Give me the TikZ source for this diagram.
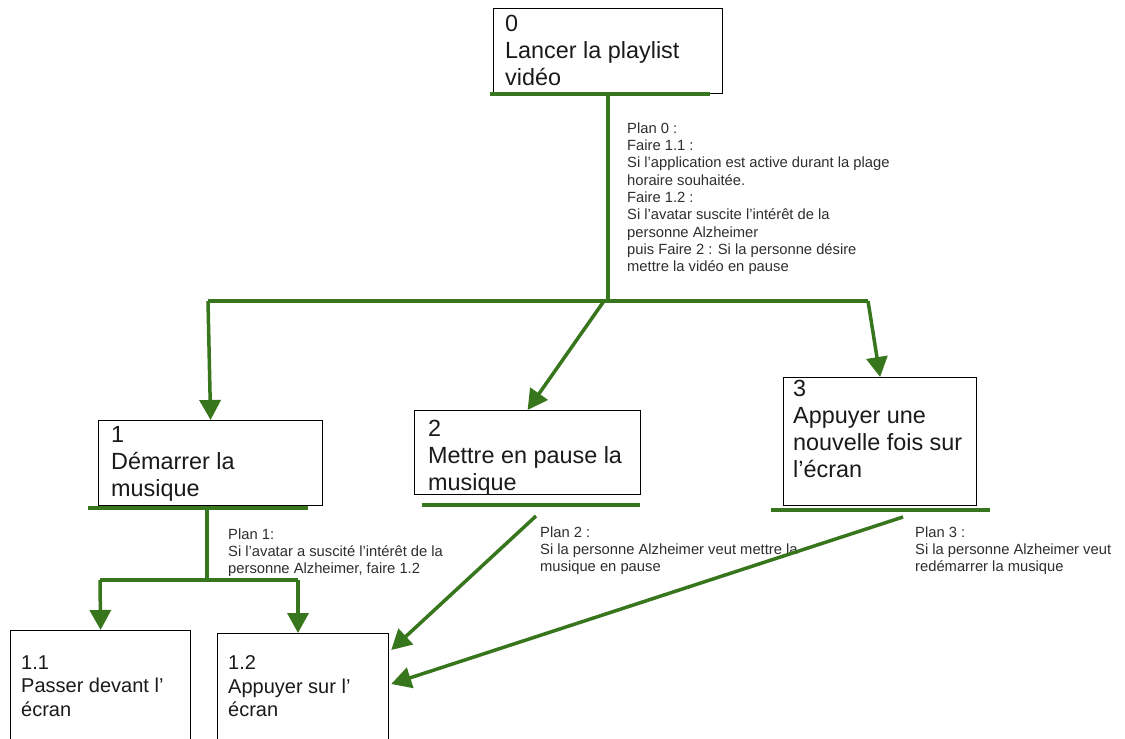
\documentclass[tikz,border=0pt]{standalone}
\usepackage{fontspec}
\setmainfont{Liberation Sans}
\usepackage{xcolor}
\usepackage{tikz}
\usetikzlibrary{calc,arrows.meta}
\definecolor{ink}{HTML}{1A1A1A}
\definecolor{note}{HTML}{2E2E2E}
\definecolor{leaf}{HTML}{38761D}
\tikzset{
  taskBox/.style={draw=black, line width=1.2pt, anchor=north west, inner sep=0pt},
  taskText/.style={text=ink, align=left, anchor=north west, inner sep=0pt,
    font=\fontsize{23.4}{27}\selectfont},
  leafText/.style={text=ink, align=left, anchor=north west, inner sep=0pt,
    font=\fontsize{20}{23.5}\selectfont},
  planText/.style={text=note, align=left, anchor=north west, inner sep=0pt,
    font=\fontsize{14.75}{17.3}\selectfont},
  underBar/.style={draw=leaf, line width=3.5pt},
  link/.style={draw=leaf, line width=3.5pt},
  flow/.style={draw=leaf, fill=leaf, line width=3.5pt,
    -{Triangle[width=21pt,length=20pt]}}
}
\begin{document}
\begin{tikzpicture}[x=1pt,y=-1pt]
  \fill[white] (0,0) rectangle (1125,739);
  \useasboundingbox (0,0) rectangle (1125,739);

  % task boxes
  \node[taskBox, minimum width=229pt, minimum height=85pt] (t0) at (493,8) {};
  \node[taskBox, minimum width=224pt, minimum height=85pt] (t1) at (98,420) {};
  \node[taskBox, minimum width=226pt, minimum height=84pt] (t2) at (414,410) {};
  \node[taskBox, minimum width=193pt, minimum height=128pt] (t3) at (783,377) {};
  \node[taskBox, minimum width=180pt, minimum height=140pt] (t11) at (10,630) {};
  \node[taskBox, minimum width=171pt, minimum height=140pt] (t12) at (217,633) {};

  \node[taskText] (l0) at (505,15) {0\\Lancer la playlist\\vidéo};
  \node[taskText] (l1) at (111,426) {1\\Démarrer la\\musique};
  \node[taskText] (l2) at (428,420) {2\\Mettre en pause la\\musique};
  \node[taskText] (l3) at (793,380) {3\\Appuyer une\\nouvelle fois sur\\l’écran};
  \node[leafText] (l11) at (21,655.5) {1.1\\Passer devant l’\\écran};
  \node[leafText] (l12) at (228,655.5) {1.2\\Appuyer sur l’\\écran};

  % plans
  \node[planText] (p0) at (627,122.5) {Plan 0 :\\Faire 1.1 :\\Si l’application est active durant la plage\\horaire souhaitée.\\Faire 1.2 :\\Si l’avatar suscite l’intérêt de la\\personne Alzheimer\\puis Faire 2 : Si la personne désire\\mettre la vidéo en pause};
  \node[planText] (p1) at (228,528.5) {Plan 1:\\Si l’avatar a suscité l’intérêt de la\\personne Alzheimer, faire 1.2};
  \node[planText] (p2) at (540,526.5) {Plan 2 :\\Si la personne Alzheimer veut mettre la\\musique en pause};
  \node[planText] (p3) at (915,526.5) {Plan 3 :\\Si la personne Alzheimer veut\\redémarrer la musique};

  % underlines
  \draw[underBar] (490,94) -- (710,94);
  \draw[underBar] (88,508) -- (308,508);
  \draw[underBar] (422,505) -- (640,505);
  \draw[underBar] (771,510) -- (990,510);

  % plan 0
  \coordinate (s0) at (608,94);
  \coordinate (hub) at (608,301);
  \coordinate (hubL) at (208,301);
  \coordinate (hubR) at (868,301);
  \coordinate (hub2) at (604,301);
  \draw[link] (s0) -- (hub);
  \draw[link] (hubL) -- (hubR);
  \draw[flow] (hubL |- hub) -- (t1.north);
  \draw[flow] (hub2) -- (t2.north);
  \draw[flow] (hubR) -- (t3.north);

  % plan 1
  \coordinate (s1) at (207,508);
  \coordinate (b1) at (207,580);
  \coordinate (b11) at (100,580);
  \coordinate (b12) at (298,580);
  \draw[link] (s1) -- (b1);
  \draw[link] (b11) -- (b12);
  \draw[flow] (b11) -- (t11.north);
  \draw[flow] (b12) -- (b12 |- t12.north);

  % plans 2 and 3
  \coordinate (s2) at (536,516);
  \coordinate (s3) at (903,517);
  \draw[flow] (s2) -- ($(t12.north east)+(2,17)$);
  \draw[flow] (s3) -- ($(t12.north east)+(2,51)$);
\end{tikzpicture}
\end{document}
